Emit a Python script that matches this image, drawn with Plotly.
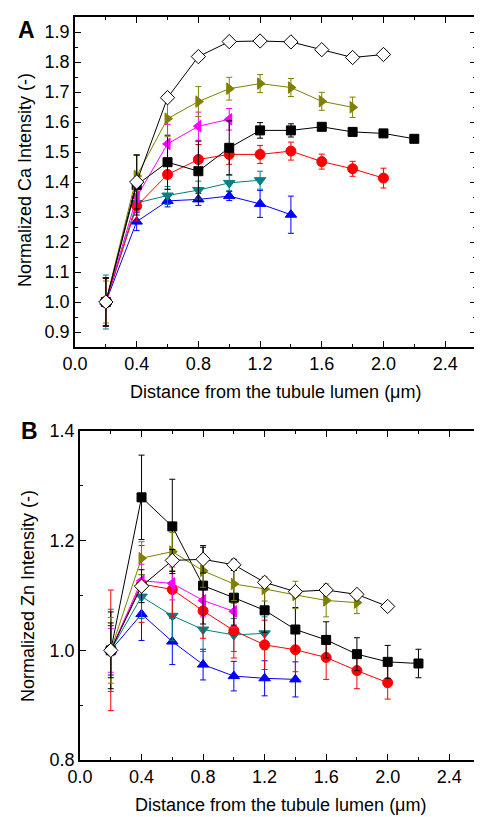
import plotly.graph_objects as go

# ---------------- data ----------------
x_vals = [0.2, 0.4, 0.6, 0.8, 1.0, 1.2, 1.4, 1.6, 1.8, 2.0, 2.2]

# Panel A: Ca
ca_square = [1.00, 1.39, 1.466, 1.436, 1.514, 1.572, 1.572, 1.584, 1.567, 1.562, 1.544]
ca_square_err = [0.08, 0.10, 0.09, 0.10, 0.09, 0.026, 0.022, 0.01, 0.01, 0.01, 0.01]
ca_circle = [1.00, 1.32, 1.425, 1.475, 1.492, 1.492, 1.503, 1.468, 1.444, 1.413]
ca_circle_err = [0.08, 0.05, 0.05, 0.05, 0.033, 0.03, 0.03, 0.025, 0.025, 0.033]
ca_up = [1.00, 1.268, 1.337, 1.342, 1.353, 1.327, 1.291]
ca_up_err = [0.08, 0.03, 0.02, 0.02, 0.015, 0.045, 0.062]
ca_down = [1.00, 1.33, 1.355, 1.373, 1.397, 1.406]
ca_down_err = [0.09, 0.03, 0.03, 0.03, 0.026, 0.03]
ca_left = [1.00, 1.35, 1.527, 1.586, 1.609]
ca_left_err = [0.08, 0.05, 0.065, 0.047, 0.036]
ca_right = [1.00, 1.42, 1.611, 1.668, 1.711, 1.728, 1.715, 1.669, 1.649]
ca_right_err = [0.07, 0.07, 0.06, 0.05, 0.038, 0.03, 0.03, 0.03, 0.034]
ca_diamond = [1.00, 1.40, 1.681, 1.818, 1.868, 1.870, 1.867, 1.841, 1.815, 1.825]
ca_diamond_err = [0.08, 0.09, 0.0, 0.0, 0.0, 0.0, 0.0, 0.0, 0.0, 0.0]

# Panel B: Zn
zn_square = [1.00, 1.279, 1.226, 1.118, 1.096, 1.073, 1.038, 1.019, 0.993, 0.979, 0.976]
zn_square_err = [0.07, 0.077, 0.086, 0.07, 0.05, 0.04, 0.04, 0.033, 0.03, 0.03, 0.026]
zn_circle = [1.00, 1.121, 1.111, 1.072, 1.036, 1.010, 1.001, 0.987, 0.963, 0.941]
zn_circle_err = [0.11, 0.07, 0.05, 0.05, 0.05, 0.045, 0.04, 0.04, 0.033, 0.03]
zn_up = [1.00, 1.066, 1.016, 0.974, 0.953, 0.949, 0.947]
zn_up_err = [0.045, 0.048, 0.042, 0.028, 0.027, 0.032, 0.032]
zn_down = [1.00, 1.098, 1.063, 1.038, 1.028, 1.031]
zn_down_err = [0.075, 0.04, 0.045, 0.04, 0.03, 0.03]
zn_left = [1.00, 1.127, 1.122, 1.091, 1.071]
zn_left_err = [0.04, 0.03, 0.03, 0.03, 0.03]
zn_right = [1.00, 1.168, 1.180, 1.145, 1.121, 1.112, 1.101, 1.091, 1.087]
zn_right_err = [0.06, 0.03, 0.035, 0.03, 0.03, 0.022, 0.025, 0.03, 0.02]
zn_diamond = [1.00, 1.117, 1.164, 1.166, 1.156, 1.124, 1.107, 1.110, 1.102, 1.080]
zn_diamond_err = [0.05, 0.03, 0.02, 0.025, 0.01, 0.0, 0.0, 0.0, 0.0, 0.0]

x_ticks = [0.0, 0.4, 0.8, 1.2, 1.6, 2.0, 2.4]
x_tick_labels = ["0.0", "0.4", "0.8", "1.2", "1.6", "2.0", "2.4"]
ca_ticks = [0.9, 1.0, 1.1, 1.2, 1.3, 1.4, 1.5, 1.6, 1.7, 1.8, 1.9]
zn_ticks = [0.8, 1.0, 1.2, 1.4]

# ---------------- styles ----------------
styles = {
    "up": dict(color="#0000FF", symbol="triangle-up", fill="#0000FF", size=10),
    "down": dict(color="#008080", symbol="triangle-down", fill="#008080", size=10),
    "circle": dict(color="#FF0000", symbol="circle", fill="#FF0000", size=10),
    "left": dict(color="#FF00FF", symbol="triangle-left", fill="#FF00FF", size=10),
    "square": dict(color="#000000", symbol="square", fill="#000000", size=9),
    "right": dict(color="#808000", symbol="triangle-right", fill="#808000", size=10),
    "diamond": dict(color="#000000", symbol="diamond", fill="#FFFFFF", size=11),
}

panel_a = [
    ("up", ca_up, ca_up_err),
    ("down", ca_down, ca_down_err),
    ("circle", ca_circle, ca_circle_err),
    ("left", ca_left, ca_left_err),
    ("square", ca_square, ca_square_err),
    ("right", ca_right, ca_right_err),
    ("diamond", ca_diamond, ca_diamond_err),
]
panel_b = [
    ("up", zn_up, zn_up_err),
    ("down", zn_down, zn_down_err),
    ("circle", zn_circle, zn_circle_err),
    ("left", zn_left, zn_left_err),
    ("square", zn_square, zn_square_err),
    ("right", zn_right, zn_right_err),
    ("diamond", zn_diamond, zn_diamond_err),
]

fig = go.Figure()


def add_series(name, yv, err, xa, ya):
    s = styles[name]
    fig.add_trace(go.Scatter(
        x=x_vals[:len(yv)], y=yv,
        mode="lines+markers",
        line=dict(color=s["color"], width=1),
        marker=dict(symbol=s["symbol"], size=s["size"], color=s["fill"],
                    line=dict(color=s["color"], width=1)),
        error_y=dict(type="data", array=err, visible=True,
                     color=s["color"], thickness=1, width=3),
        xaxis=xa, yaxis=ya, showlegend=False, cliponaxis=False,
    ))


for name, yv, err in panel_a:
    add_series(name, yv, err, "x", "y")
for name, yv, err in panel_b:
    add_series(name, yv, err, "x2", "y2")

W, H = 482, 817
FONT = "Liberation Sans, Arial, sans-serif"
axis_font = dict(family=FONT, size=18, color="black")


def axis_style(minor_dtick, minor_tick0):
    return dict(
        ticks="inside", ticklen=6, tickwidth=1.2, tickcolor="black",
        showline=True, linecolor="black", linewidth=1.6, mirror="ticks",
        showgrid=False, zeroline=False, tickfont=axis_font, automargin=False,
        minor=dict(dtick=minor_dtick, tick0=minor_tick0, ticks="inside", ticklen=3,
                   tickcolor="black", showgrid=False),
    )


fig.update_layout(
    width=W, height=H,
    margin=dict(l=0, r=0, t=0, b=0),
    paper_bgcolor="white", plot_bgcolor="white",
    xaxis=dict(domain=[67 / W, 468 / W], anchor="y", range=[0, 2.6],
               tickvals=x_ticks, ticktext=x_tick_labels, **axis_style(0.2, 0)),
    yaxis=dict(domain=[1 - 339 / H, 1 - 9 / H], anchor="x", range=[0.85, 1.95],
               tickvals=ca_ticks, tickformat=".1f", **axis_style(0.05, 0.85)),
    xaxis2=dict(domain=[72 / W, 472 / W], anchor="y2", range=[0, 2.6],
                tickvals=x_ticks, ticktext=x_tick_labels, **axis_style(0.2, 0)),
    yaxis2=dict(domain=[1 - 752 / H, 1 - 423 / H], anchor="x2", range=[0.8, 1.4],
                tickvals=zn_ticks, tickformat=".1f", **axis_style(0.1, 0.8)),
)

title_font = dict(family=FONT, size=18, color="black")
letter_font = dict(family=FONT, size=23, color="black")
annos = [
    dict(text="Distance from the tubule lumen (\u03bcm)", x=(67 + 468) / 2 / W, y=1 - 384 / H,
         xref="paper", yref="paper", showarrow=False, font=title_font, xanchor="center", yanchor="middle"),
    dict(text="Normalized Ca Intensity (-)", x=17 / W, y=1 - 172 / H, textangle=-90,
         xref="paper", yref="paper", showarrow=False, font=title_font, xanchor="center", yanchor="middle"),
    dict(text="Distance from the tubule lumen (\u03bcm)", x=(72 + 472) / 2 / W, y=1 - 797 / H,
         xref="paper", yref="paper", showarrow=False, font=title_font, xanchor="center", yanchor="middle"),
    dict(text="Normalized Zn Intensity (-)", x=20 / W, y=1 - 588 / H, textangle=-90,
         xref="paper", yref="paper", showarrow=False, font=title_font, xanchor="center", yanchor="middle"),
    dict(text="<b>A</b>", x=18 / W, y=1 - 22 / H,
         xref="paper", yref="paper", showarrow=False, font=letter_font, xanchor="center", yanchor="middle"),
    dict(text="<b>B</b>", x=21 / W, y=1 - 423 / H,
         xref="paper", yref="paper", showarrow=False, font=letter_font, xanchor="center", yanchor="middle"),
]
fig.update_layout(annotations=annos)

fig.write_html("out.html")
